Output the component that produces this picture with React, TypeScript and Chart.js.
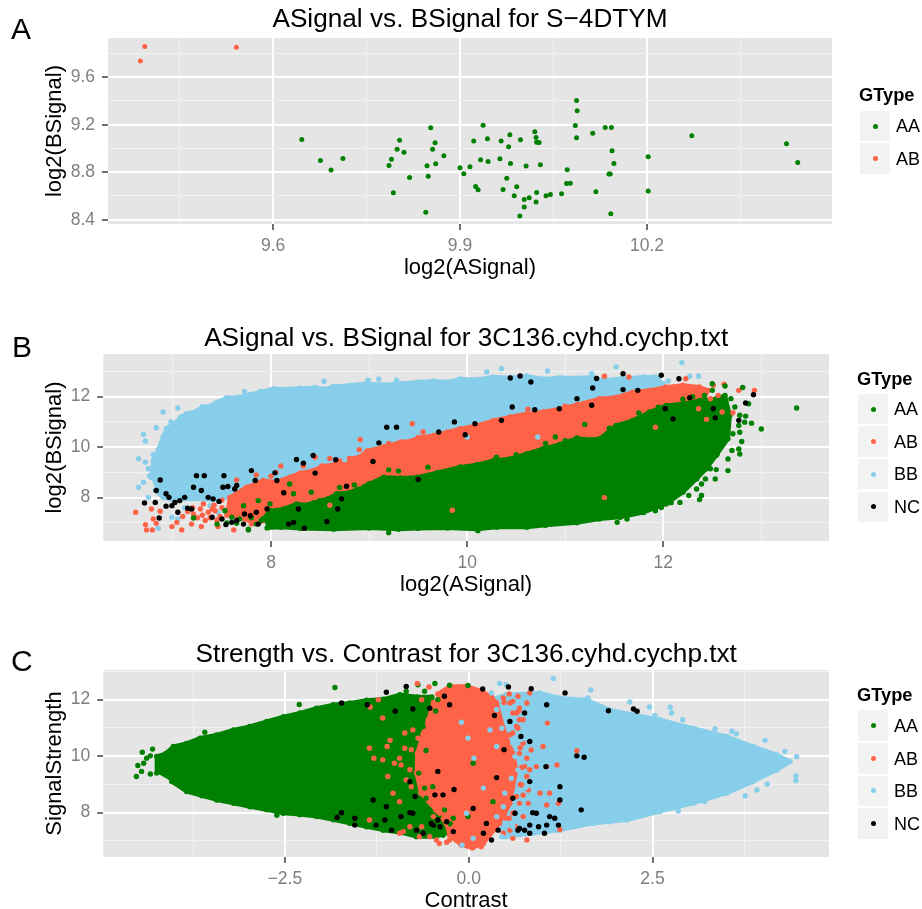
import React, { useEffect, useRef } from "react";
import { Chart, registerables } from "chart.js";

Chart.register(...registerables);

type P = [number, number];

const GREEN = "#008000";
const RED = "#FF6347";
const BLUE = "#87CEEB";
const BLACK = "#000000";
const FONT = '"Liberation Sans", Arial, sans-serif';

// ---------- Panel A values
const aAA: P[] = [[9.646,9.076],[9.676,8.899],[9.693,8.818],[9.712,8.916],[9.786,8.857],[9.79,8.91],[9.799,8.994],[9.803,9.07],[9.81,8.969],[9.819,8.756],[9.793,8.627],[9.845,8.462],[9.847,8.854],[9.849,8.767],[9.853,9.174],[9.856,8.994],[9.86,9.048],[9.861,8.871],[9.874,8.938],[9.9,8.837],[9.906,8.787],[9.916,8.846],[9.922,9.062],[9.925,8.68],[9.929,8.652],[9.933,8.905],[9.937,9.196],[9.944,9.081],[9.945,8.891],[9.964,8.913],[9.966,9.062],[9.969,8.655],[9.975,8.75],[9.978,9.014],[9.98,9.115],[9.981,8.874],[9.987,8.602],[9.991,8.678],[9.996,8.431],[9.997,9.073],[10.003,8.571],[10.003,8.507],[10.006,8.852],[10.011,8.585],[10.02,9.141],[10.022,8.549],[10.022,9.093],[10.023,8.63],[10.023,9.053],[10.027,9.05],[10.029,8.863],[10.038,8.602],[10.045,8.613],[10.063,8.619],[10.072,8.821],[10.071,8.706],[10.077,8.708],[10.085,9.193],[10.087,9.404],[10.088,9.317],[10.087,9.09],[10.113,9.129],[10.118,8.636],[10.133,9.177],[10.143,9.177],[10.139,8.784],[10.141,8.784],[10.142,8.45],[10.144,8.98],[10.147,8.874],[10.202,8.93],[10.202,8.641],[10.272,9.107],[10.424,9.039],[10.442,8.882]];
const aAB: P[] = [[9.394,9.858],[9.387,9.737],[9.541,9.852]];

// ---------- Panel B cloud outlines
const bBBCloud: P[] = [[6.78,8.8],[6.8,9.47],[6.85,9.9],[6.9,10.4],[6.935,10.75],[7.02,10.95],[7.08,11.2],[7.139,11.325],[7.24,11.42],[7.3,11.6],[7.344,11.589],[7.45,11.78],[7.548,11.96],[7.67,11.98],[7.786,12.09],[7.9,12.2],[8.024,12.318],[8.15,12.3],[8.296,12.33],[8.45,12.36],[8.54,12.3],[8.636,12.4],[8.8,12.45],[8.976,12.52],[9.15,12.47],[9.316,12.517],[9.5,12.58],[9.656,12.623],[9.8,12.58],[9.929,12.7],[10.1,12.68],[10.265,12.78],[10.45,12.76],[10.605,12.82],[10.78,12.7],[10.946,12.755],[11.12,12.74],[11.286,12.78],[11.35,12.65],[11.56,12.71],[11.8,12.78],[11.92,12.78],[12.0,12.51],[11.69,12.12],[11.35,11.85],[11,10.8],[9,8.8],[8,8.4],[7.55,8.0],[7.4,7.9],[7.2,7.95],[7.0,7.9],[6.9,8.0],[6.82,8.28]];
const bABCloud: P[] = [[7.55,7.3],[7.58,8.01],[7.75,8.41],[7.92,8.68],[8.05,8.62],[8.19,8.81],[8.3,8.98],[8.43,9.07],[8.52,9.25],[8.64,9.3],[8.8,9.55],[8.9,9.6],[8.98,9.85],[9.15,10.02],[9.32,10.2],[9.44,10.25],[9.5,10.38],[9.66,10.46],[9.8,10.6],[9.93,10.73],[10.1,10.86],[10.27,11.06],[10.44,11.2],[10.61,11.32],[10.78,11.4],[10.95,11.52],[11.12,11.68],[11.35,11.92],[11.52,11.98],[11.69,12.18],[11.86,12.25],[12.03,12.38],[12.2,12.45],[12.37,12.38],[12.46,12.25],[12.37,11.6],[12.03,11.1],[11.69,10.6],[11.29,10.1],[10.95,9.6],[10.61,9.3],[10.27,9.0],[9.93,8.8],[9.3,8.3],[8.9,8],[8.3,7.4],[7.8,6.95]];
const bAACloud: P[] = [[7.92,7.15],[7.99,7.48],[8.13,7.55],[8.26,7.75],[8.38,7.72],[8.47,7.88],[8.58,7.95],[8.67,8.15],[8.8,8.2],[9,8.55],[9.15,8.81],[9.32,8.78],[9.49,8.81],[9.7,9.0],[9.93,9.21],[10.1,9.3],[10.27,9.47],[10.45,9.55],[10.61,9.74],[10.78,9.95],[10.95,10.12],[11.12,10.36],[11.2,10.3],[11.35,10.33],[11.52,10.86],[11.69,11.06],[11.86,11.39],[12.03,11.65],[12.2,11.72],[12.37,11.85],[12.54,11.92],[12.63,12.05],[12.68,11.26],[12.66,10.33],[12.54,9.67],[12.44,9.14],[12.34,8.74],[12.2,8.21],[12.03,7.75],[11.8,7.41],[11.56,7.22],[11.35,7.15],[11.12,7.0],[10.8,6.9],[10.61,6.82],[10.3,6.82],[10.1,6.75],[9.8,6.8],[9.5,6.78],[9.3,6.75],[9,6.8],[8.64,6.75],[8.3,6.78],[8.1,6.82],[7.96,6.8]];

// ---------- Panel B hand-read points
const bAA: P[] = [[13.36,11.55],[13.0,10.72],[12.9,10.95],[12.5,12.51],[12.63,12.42],[12.5,12.25],[12.69,11.92],[12.73,11.59],[12.78,11.26],[12.84,11.23],[12.83,10.99],[12.77,10.86],[12.78,10.59],[12.71,10.53],[12.8,10.22],[12.7,9.87],[12.78,9.73],[12.77,9.93],[12.66,9.53],[12.55,9.73],[12.66,9.07],[12.54,9.11],[12.53,8.74],[12.48,9.14],[12.43,8.74],[12.39,8.54],[12.34,8.34],[12.39,8.08],[12.37,7.92],[12.26,8.08],[12.17,7.81],[12.08,7.8],[11.98,7.61],[11.92,7.48],[11.63,7.15],[11.53,7.02],[10.11,6.69],[9.2,6.61],[7.77,6.72],[12.81,12.36],[12.87,11.72],[7.21,7.19],[7.45,6.95],[7.53,7.48],[7.6,7.22],[7.68,7.15],[7.77,6.75],[7.87,7.88],[7.9,7.09],[7.72,7.68],[7.99,7.75],[8.19,8.54],[8.23,8.15],[8.41,8.21],[7.55,7.0],[7.65,6.98],[7.8,7.2],[7.85,6.95],[8.7,8.4],[8.85,8.5],[9.2,9.1],[9.3,9.05],[9.6,9.2],[10.9,10.4],[10.8,10.15],[11.2,10.9],[11.45,10.75],[10.5,9.7],[10.3,9.6],[11.0,10.25],[11.75,11.35],[11.95,11.58],[12.2,11.9],[12.3,12.0],[12.42,12.05]];
const bAB: P[] = [[6.62,7.42],[6.72,6.93],[6.73,6.72],[6.79,6.72],[6.78,7.55],[6.8,7.15],[6.83,6.98],[6.87,7.46],[6.99,6.85],[7.09,6.72],[7.04,7.02],[7.19,6.95],[7.29,6.85],[7.21,7.35],[7.28,7.55],[7.31,7.75],[7.36,7.42],[7.33,7.09],[7.43,7.48],[7.46,6.85],[7.62,6.72],[7.25,7.2],[7.38,7.2],[7.42,7.7],[7.48,7.25],[7.5,7.6],[7.3,7.3],[7.45,7.1],[7.2,7.6],[7.15,7.45],[7.4,7.55],[7.5,7.9],[7.1,7.25],[9.44,10.93],[8.91,10.3],[12.62,12.49],[12.77,12.25],[12.93,12.25],[12.51,12.45],[12.23,12.71],[12.36,12.32],[12.44,12.25],[12.48,11.92],[12.56,12.05],[12.36,11.52],[12.44,11.1],[12.6,11.39],[12.71,11.36],[11.92,10.79],[11.63,11.19],[11.4,12.81],[11.65,12.78],[8.9,9.9],[8.6,9.55],[8.45,9.6],[8.1,9.25],[8.05,9.0],[7.85,8.9],[7.65,8.7],[8.0,8.85],[8.33,9.25],[9.55,10.6],[11.4,8.0],[9.85,7.5],[10.55,10.4],[8.7,9.45],[9.2,10.15],[7.95,8.15],[8.0,7.9],[8.15,7.95],[8.45,8.0],[8.6,7.7],[8.9,8.55],[7.7,8.1],[10.62,11.5],[11.0,11.62]];
const bBB: P[] = [[12.19,13.35],[11.52,13.18],[10.35,13.11],[10.2,12.98],[10.82,13.02],[11.27,12.91],[12.27,12.81],[12.36,12.81],[7.73,12.21],[7.89,12.21],[8.54,12.61],[8.99,12.65],[9.1,12.69],[9.28,12.65],[6.9,11.39],[7.05,11.55],[6.83,10.77],[6.7,10.5],[6.72,10.24],[6.65,9.54],[6.7,8.61],[6.65,8.41],[6.75,9.14],[6.76,8.87],[6.75,8.01],[6.72,9.4],[6.85,6.79],[6.99,7.22],[7.05,7.15],[7.38,7.68],[7.46,7.42],[6.8,9.7],[6.98,11.0],[10.72,10.4],[10.0,10.4],[11.95,12.7],[12.05,12.62],[8.15,9.0],[8.6,9.6],[8.75,9.5],[7.12,7.6]];
const bNC: P[] = [[6.71,7.79],[6.82,7.81],[6.83,8.28],[6.87,8.7],[6.86,7.19],[6.93,8.15],[6.96,8.01],[6.93,7.66],[6.99,7.68],[7.02,7.81],[7.07,7.88],[7.12,8.01],[7.05,7.42],[7.15,7.58],[7.19,7.55],[7.24,8.87],[7.32,8.87],[7.21,8.41],[7.29,8.28],[7.36,8.01],[7.41,7.95],[7.47,7.85],[7.52,8.87],[7.51,8.41],[7.56,8.44],[7.63,8.34],[7.65,8.48],[7.8,9.07],[7.84,8.68],[7.4,7.22],[7.5,7.15],[7.54,6.93],[7.6,7.02],[7.65,7.09],[7.73,7.35],[7.79,7.28],[7.72,6.95],[7.85,7.42],[7.87,6.95],[7.96,7.55],[8.06,8.68],[8.04,8.98],[8.13,8.19],[8.26,9.51],[8.33,9.36],[8.45,8.97],[8.18,6.95],[8.23,7.02],[8.28,7.55],[8.34,6.79],[8.57,7.05],[8.68,7.55],[8.72,7.95],[8.66,9.5],[8.43,9.67],[9.1,10.17],[9.04,9.43],[8.77,8.45],[9.18,10.79],[9.28,10.79],[9.5,8.72],[9.71,10.6],[9.87,11],[9.98,10.49],[10.08,10.93],[10.35,11.06],[10.46,11.59],[10.69,11.48],[10.94,11.52],[11.12,11.92],[11.27,11.66],[10.44,12.74],[10.54,12.82],[10.65,12.58],[11.32,12.72],[11.28,12.34],[11.59,12.91],[11.59,12.28],[11.74,12.25],[11.98,12.85],[12.16,12.71],[12.27,11.96],[12.02,11.52],[12.1,11.12],[12.51,11.52],[12.53,11.16],[12.77,11.06],[12.84,11.75],[12.92,12.08]];

// ---------- Panel C cloud outlines
const cAACloud: P[] = [[-4.244,9.4],[-4.244,9.99],[-4.12,10.1],[-4.017,10.34],[-3.84,10.45],[-3.655,10.64],[-3.43,10.75],[-3.202,10.93],[-2.98,11.05],[-2.749,11.23],[-2.52,11.4],[-2.296,11.53],[-2.07,11.7],[-1.843,11.82],[-1.62,11.88],[-1.39,11.98],[-1.16,12.02],[-0.938,12.18],[-0.7,12.1],[-0.5,12.1],[-0.25,8.0],[-0.25,7.3],[-0.45,7.15],[-0.711,7.15],[-0.94,7.3],[-1.164,7.38],[-1.39,7.5],[-1.617,7.62],[-1.843,7.75],[-2.07,7.86],[-2.296,7.93],[-2.523,7.98],[-2.75,8.1],[-2.976,8.21],[-3.2,8.33],[-3.428,8.45],[-3.63,8.6],[-3.836,8.75],[-4.04,9.1]];
const cABCloud: P[] = [[-0.42,12.2],[-0.26,12.47],[-0.03,12.48],[0.18,12.3],[0.31,12.1],[0.38,11.88],[0.45,11.2],[0.51,10.7],[0.6,10.1],[0.65,9.52],[0.6,8.9],[0.56,8.33],[0.48,7.9],[0.38,7.5],[0.2,6.91],[0.05,6.75],[-0.1,6.85],[-0.26,7.2],[-0.3,7.6],[-0.45,8.1],[-0.65,8.7],[-0.71,9.4],[-0.7,10.1],[-0.62,10.8],[-0.55,11.28],[-0.48,11.9]];
const cBBCloud: P[] = [[0.3,12.0],[0.513,12.18],[0.966,12.24],[1.239,12.06],[1.6,12],[1.92,11.64],[2.24,11.47],[2.6,11.29],[3.05,10.99],[3.51,10.7],[3.87,10.34],[4.19,10.05],[4.37,9.81],[4.19,9.51],[3.87,9.1],[3.51,8.69],[3.05,8.33],[2.6,8.04],[2.15,7.74],[1.69,7.62],[1.24,7.38],[0.876,7.27],[0.5,7.15],[0.3,8]];

// ---------- Panel C hand-read points
const cAA: P[] = [[-1.82,12.43],[-2.305,11.83],[-3.59,10.85],[-2.61,7.91],[-4.52,9.28],[-4.5,9.67],[-4.44,10.14],[-4.3,10.25],[-4.38,9.93],[-4.42,9.75],[-4.45,9.46],[-4.33,9.37],[-4.33,10.01],[-0.85,9.99],[-0.67,11.41],[-0.62,11.05],[-0.73,10.46],[-0.8,10.1],[-0.69,11.65],[-0.6,8.87],[-0.58,8.51],[-0.49,8.92],[-0.69,8.39],[-0.53,8.1],[-0.33,8.1],[-0.21,7.8],[-0.01,7.86],[0.33,8.39],[0.06,9.75],[-0.69,12.53],[-0.46,12.57],[-0.26,12.51],[-0.01,12.5],[-0.6,12.3],[-0.85,12.3],[-0.42,12.0],[-0.45,11.6],[-0.58,10.2],[-0.68,9.4],[-0.4,7.9],[-0.25,7.6],[-0.45,7.4],[-0.35,7.2]];
const cAB: P[] = [[-0.7,12.57],[-0.54,12.45],[-1.35,10.28],[-1.29,9.93],[-1.11,10.34],[-1.07,10.56],[-0.94,8.39],[-0.94,9.93],[-0.87,10.28],[-0.92,9.69],[-1.1,9.28],[-1.01,9.75],[-1.17,9.87],[-1.03,8.69],[-1.35,7.74],[-0.89,7.33],[-0.67,7.15],[-1.34,11.74],[-1.17,11.35],[-0.76,10.93],[-0.69,10.64],[-0.78,10.23],[-0.8,9.52],[-0.85,9.16],[-0.78,8.92],[-1.23,12.0],[-0.87,10.82],[-0.64,12.0],[0.51,10.52],[0.56,10.76],[0.67,10.99],[0.74,11.29],[0.6,11.53],[0.85,10.22],[0.79,9.93],[0.83,9.52],[0.92,9.63],[1.06,9.63],[1.2,9.69],[1.07,11.17],[1.47,10.19],[1.22,8.33],[1.06,8.27],[1.1,8.69],[0.97,8.69],[0.81,8.33],[0.74,8.62],[0.65,7.5],[0.79,7.03],[0.6,7.09],[0.47,7.27],[0.17,6.79],[-0.4,6.91],[1.24,7.4],[1.01,10.34],[0.83,12.24],[0.67,12.12],[0.79,11.88],[0.7,10.3],[0.72,9.6],[0.7,9.0],[0.62,8.0],[0.55,7.8],[0.48,11.9],[0.55,12.2],[0.68,11.6],[-0.15,7.1],[-0.3,6.95],[-0.05,7.5],[-0.2,7.5],[0.56,11.88],[0.65,11.53],[0.69,11.29],[0.65,11.05],[0.6,10.82],[0.74,10.46],[0.69,10.1],[0.76,9.63],[0.79,9.28],[0.72,8.98],[0.81,8.8],[0.65,8.57],[0.69,8.33],[0.6,7.98],[0.51,7.8],[0.42,7.62],[0.33,7.38],[0.56,7.38],[0.74,7.86],[0.47,12.06],[0.6,11.94],[0.69,11.7],[-0.8,7.5],[-0.94,7.27],[-0.53,7.15],[-0.44,7.03],[-0.26,7.03],[-0.17,7.03],[-0.03,6.91],[-0.64,7.5],[-0.48,7.86],[-0.39,7.98]];
const cBB: P[] = [[1.15,12.75],[1.66,12.34],[2.19,11.92],[2.46,11.74],[2.74,11.73],[2.76,11.53],[2.53,11.44],[2.91,11.29],[3.35,10.96],[3.58,10.88],[3.64,10.79],[4.03,10.56],[4.46,9.98],[4.3,10.17],[4.45,9.3],[4.45,9.14],[3.76,8.6],[3.92,8.8],[4.06,9.01],[0.42,12.57],[0.51,12.53],[1.62,12.06],[-0.1,11.2],[-0.01,10.64],[0.07,9.93],[0.29,10.93],[0.38,10.34],[0.45,10.99],[0.51,11.23],[0.6,10.46],[0.63,9.99],[0.58,9.22],[0.38,11.65],[0.31,12.24],[0.67,9.51],[0.49,8.69],[0.47,8.21],[0.38,7.86],[-0.03,7.98],[-0.09,6.85],[0.06,7.09],[0.45,7.15],[0.6,7.5],[0.2,8.87],[2.85,8.06],[3.21,8.39],[1.92,7.68],[0.72,10.6],[0.78,8.9],[0.7,7.6]];
const cNC: P[] = [[-1.12,12.26],[-0.85,12.47],[-1.73,11.88],[-1.38,11.82],[-1,11.59],[-0.53,11.7],[-0.76,11.67],[-0.26,11.82],[-0.33,12.12],[-0.42,9.46],[-0.8,9.1],[-0.73,8.57],[-0.46,8.63],[-0.35,8.63],[-1.12,8.21],[-1.3,8.45],[-1.55,7.56],[-1.55,7.8],[-1.79,7.83],[-1.73,8],[-1.26,7.56],[-1.14,7.74],[-1.05,7.38],[-0.92,7.86],[-0.76,7.98],[-0.71,7.38],[-0.62,7.27],[-0.51,7.62],[-0.39,7.5],[-0.3,7.68],[-0.21,7.33],[-0.2,8.82],[0.38,9.24],[0.48,10.23],[0.56,11.23],[0.35,11.44],[0.71,10.7],[0.83,10.52],[0.76,11.53],[1.06,11.82],[1.31,12.24],[0.85,12.39],[0.54,12.45],[0.19,12.38],[0.83,9.1],[1.24,8.92],[1.24,8.45],[1.53,8.1],[0.92,7.98],[1.1,7.86],[1.17,7.8],[1.22,7.56],[1.06,7.56],[1.03,7.27],[0.83,7.56],[0.83,7.27],[0.69,7.44],[0.63,7.98],[0.6,8.51],[0.4,7.38],[0.24,7.62],[0.2,7.27],[0.31,7.03],[0.06,8.15],[-0.8,8],[-0.48,7.56],[-0.42,7.74],[1.47,10.01],[1.57,9.96],[1.05,9.63],[1.9,11.61],[2.24,11.67],[2.29,11.59],[0.87,8],[0.67,7.38],[0.76,7.38],[0.95,7.5]];

// ---------- Axis ticks and labels
const aXMajor = [9.6, 9.9, 10.2];
const aXMinor = [9.45, 9.75, 10.05, 10.35];
const aYMajor = [8.4, 8.8, 9.2, 9.6];
const aYMinor = [8.6, 9.0, 9.4, 9.8];
const bXMajor = [8, 10, 12];
const bXMinor = [7, 9, 11, 13];
const bYMajor = [8, 10, 12];
const bYMinor = [7, 9, 11, 13];
const cXMajor = [-2.5, 0, 2.5];
const cXMinor = [-3.75, -1.25, 1.25, 3.75];
const cYMajor = [8, 10, 12];
const cYMinor = [7, 9, 11, 13];

const aXLabels = ["9.6", "9.9", "10.2"];
const aYLabels = ["8.4", "8.8", "9.2", "9.6"];
const bXLabels = ["8", "10", "12"];
const bYLabels = ["8", "10", "12"];
const cXLabels = ["\u22122.5", "0.0", "2.5"];
const cYLabels = ["8", "10", "12"];

const legendA = ["AA", "AB"];
const legendFull = ["AA", "AB", "BB", "NC"];
const COLORS: Record<string, string> = { AA: GREEN, AB: RED, BB: BLUE, NC: BLACK };

const panelBg = {
  id: "panelBg",
  beforeDraw(chart: any) {
    const { ctx, chartArea: a } = chart;
    ctx.save();
    ctx.fillStyle = "#E5E5E5";
    ctx.fillRect(a.left, a.top, a.right - a.left, a.bottom - a.top);
    ctx.restore();
  },
};

function axis(major: number[], minor: number[], labels: string[], min: number, max: number, title: string, size: any, titlePadding: any, tickPadding: number) {
  const isMajor = (v: number) => major.some((m) => Math.abs(m - v) < 1e-9);
  return {
    type: "linear",
    min,
    max,
    afterBuildTicks(s: any) {
      s.ticks = [...major, ...minor].sort((a, b) => a - b).map((value) => ({ value }));
    },
    afterFit: size,
    border: { display: false },
    grid: {
      color: (c: any) => (isMajor(c.tick?.value) ? "#FFFFFF" : "#F2F2F2"),
      lineWidth: (c: any) => (isMajor(c.tick?.value) ? 2 : 1),
      tickColor: (c: any) => (isMajor(c.tick?.value) ? "#6E6E6E" : "rgba(0,0,0,0)"),
      tickWidth: 2,
      tickLength: 6,
    },
    ticks: {
      autoSkip: false,
      maxRotation: 0,
      minRotation: 0,
      padding: tickPadding,
      color: "#7F7F7F",
      font: { family: FONT, size: 17.5, lineHeight: 1 },
      callback: (v: number) => {
        const i = major.findIndex((m) => Math.abs(m - v) < 1e-9);
        return i >= 0 ? labels[i] : "";
      },
    },
    title: {
      display: true,
      text: title,
      color: "#000000",
      padding: titlePadding,
      font: { family: FONT, size: 22, lineHeight: 1 },
    },
  };
}

const CANVAS_TOP_GAP = 38;
const X_AXIS_H = 56;
const TITLE_SIZE = 26.2;

type Panel = {
  left: number; right: number; top: number; bottom: number; titleTop: number;
  title: string; xTitle: string; yTitle: string;
  x: any; y: any; datasets: any[];
};

function cloud(data: P[], color: string, r: number) {
  return { data, showLine: true, fill: "shape", tension: 0, borderColor: color, backgroundColor: color, borderWidth: 4, borderJoinStyle: "round", pointRadius: r, pointBackgroundColor: color, pointBorderWidth: 0 };
}
function dots(data: P[], color: string, r: number) {
  return { data, showLine: false, pointRadius: r, pointBackgroundColor: color, pointBorderWidth: 0, backgroundColor: color };
}
const toXY = (ds: any) => ({ ...ds, data: ds.data.map((p: P) => ({ x: p[0], y: p[1] })) });

const R = 2.7;
const panels: Panel[] = [
  {
    left: 108, right: 832, top: 37.7, bottom: 224, titleTop: 7,
    title: "ASignal vs. BSignal for S\u22124DTYM", xTitle: "log2(ASignal)", yTitle: "log2(BSignal)",
    x: { major: aXMajor, minor: aXMinor, labels: aXLabels, min: 9.335, max: 10.497 },
    y: { major: aYMajor, minor: aYMinor, labels: aYLabels, min: 8.364, max: 9.93 },
    datasets: [dots(aAB, RED, 2.5), dots(aAA, GREEN, 2.5)],
  },
  {
    left: 103.3, right: 829, top: 353.7, bottom: 540.3, titleTop: 10,
    title: "ASignal vs. BSignal for 3C136.cyhd.cychp.txt", xTitle: "log2(ASignal)", yTitle: "log2(BSignal)",
    x: { major: bXMajor, minor: bXMinor, labels: bXLabels, min: 6.29, max: 13.69 },
    y: { major: bYMajor, minor: bYMinor, labels: bYLabels, min: 6.28, max: 13.69 },
    datasets: [dots(bNC, BLACK, R), dots(bAA, GREEN, R), dots(bAB, RED, R), dots(bBB, BLUE, R), cloud(bAACloud, GREEN, R), cloud(bABCloud, RED, R), cloud(bBBCloud, BLUE, R)],
  },
  {
    left: 103.3, right: 829, top: 670.3, bottom: 857, titleTop: 10,
    title: "Strength vs. Contrast for 3C136.cyhd.cychp.txt", xTitle: "Contrast", yTitle: "SignalStrength",
    x: { major: cXMajor, minor: cXMinor, labels: cXLabels, min: -4.97, max: 4.9 },
    y: { major: cYMajor, minor: cYMinor, labels: cYLabels, min: 6.43, max: 13.05 },
    datasets: [dots(cNC, BLACK, R), dots(cBB, BLUE, R), dots(cAB, RED, R), dots(cAA, GREEN, R), cloud(cABCloud, RED, R), cloud(cBBCloud, BLUE, R), cloud(cAACloud, GREEN, R)],
  },
];

function PanelChart({ p }: { p: Panel }) {
  const ref = useRef<HTMLCanvasElement | null>(null);
  useEffect(() => {
    const chart = new Chart(ref.current as HTMLCanvasElement, {
      type: "scatter",
      data: { datasets: p.datasets.map(toXY) },
      plugins: [panelBg],
      options: {
        animation: false,
        responsive: false,
        events: [],
        layout: { padding: { top: p.titleTop, left: 0, right: 922 - p.right, bottom: 0 } },
        plugins: {
          legend: { display: false },
          tooltip: { enabled: false },
          title: {
            display: true,
            fullSize: false,
            text: p.title,
            color: "#000000",
            font: { family: FONT, size: TITLE_SIZE, weight: "normal", lineHeight: 1 },
            padding: { top: 0, bottom: CANVAS_TOP_GAP - TITLE_SIZE - p.titleTop },
          },
        },
        scales: {
          x: axis(p.x.major, p.x.minor, p.x.labels, p.x.min, p.x.max, p.xTitle, (s: any) => { s.height = X_AXIS_H; }, { top: 0, bottom: 1 }, 7),
          y: axis(p.y.major, p.y.minor, p.y.labels, p.y.min, p.y.max, p.yTitle, (s: any) => { s.width = p.left; }, { top: 44, bottom: 0 }, 7),
        },
      } as any,
    } as any);
    return () => chart.destroy();
  }, [p]);
  const canvasTop = p.top - CANVAS_TOP_GAP;
  return (
    <canvas
      ref={ref}
      width={922}
      height={Math.round(p.bottom + X_AXIS_H - canvasTop)}
      style={{ position: "absolute", left: 0, top: canvasTop, display: "block" }}
    />
  );
}

const abs = (left: number, top: number, extra: any = {}): any => ({ position: "absolute", left, top, lineHeight: 1, fontFamily: FONT, color: "#000", whiteSpace: "nowrap", ...extra });

function Legend({ names, keyX, titleCy, firstCy, step }: { names: string[]; keyX: number; titleCy: number; firstCy: number; step: number }) {
  return (
    <>
      <div style={abs(keyX - 1, titleCy - 8.9, { fontSize: 18.3, fontWeight: "bold" })}>GType</div>
      {names.map((n, i) => {
        const cy = firstCy + i * step;
        return (
          <React.Fragment key={n}>
            <div style={abs(keyX, cy - (step - 2) / 2, { width: 30, height: step - 2, background: "#F2F2F2" })} />
            <div style={abs(keyX + 12.5, cy - 2.5, { width: 5, height: 5, borderRadius: "50%", background: COLORS[n] })} />
            <div style={abs(keyX + 36, cy - 8.8, { fontSize: 18 })}>{n}</div>
          </React.Fragment>
        );
      })}
    </>
  );
}

export default function App() {
  return (
    <div style={{ position: "absolute", left: 0, top: 0, width: 922, height: 909, overflow: "hidden", background: "#fff" }}>
      {panels.map((p, i) => <PanelChart key={i} p={p} />)}
      <div style={abs(11, 13.6, { fontSize: 30 })}>A</div>
      <div style={abs(12, 331.6, { fontSize: 30 })}>B</div>
      <div style={abs(11, 645.6, { fontSize: 30 })}>C</div>
      <Legend names={legendA} keyX={860} titleCy={95} firstCy={126} step={32.5} />
      <Legend names={legendFull} keyX={858} titleCy={379} firstCy={409} step={32.6} />
      <Legend names={legendFull} keyX={858} titleCy={695} firstCy={725.7} step={32.6} />
    </div>
  );
}
